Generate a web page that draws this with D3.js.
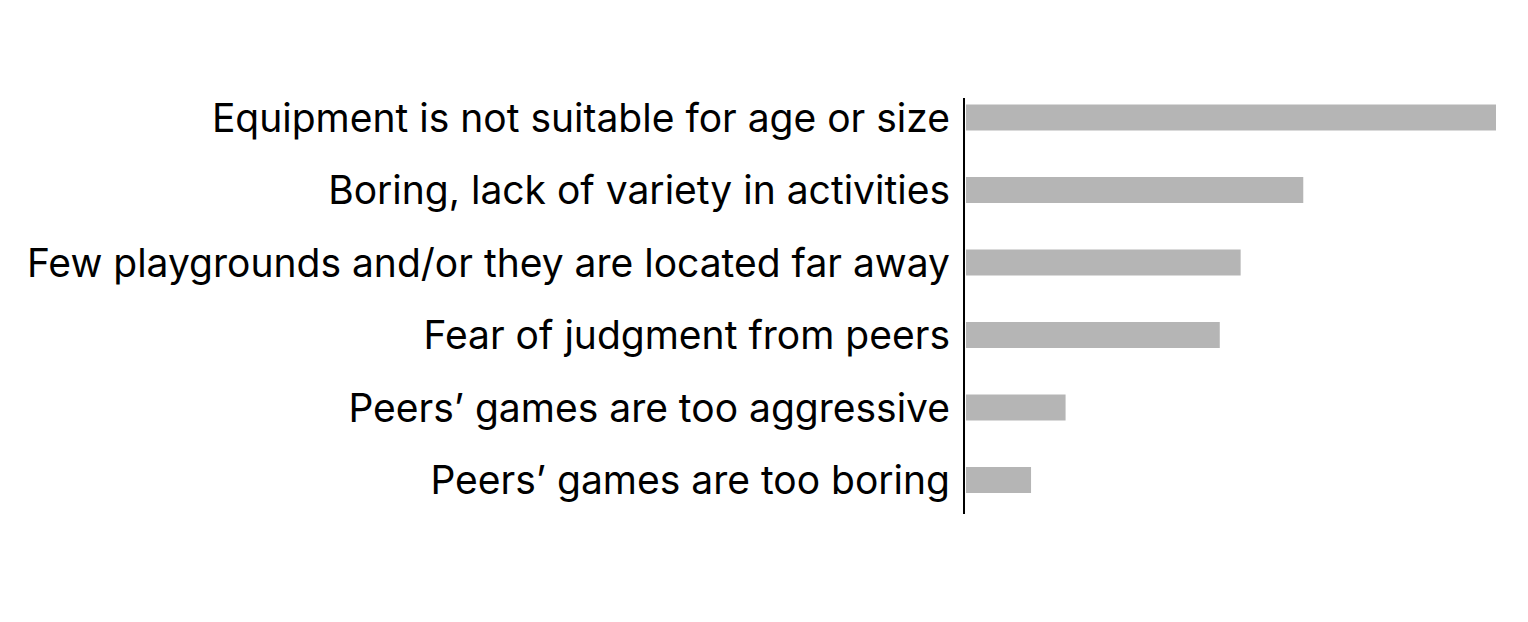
<!DOCTYPE html>
<html>
<head>
<meta charset="utf-8">
<script src="https://cdn.jsdelivr.net/npm/d3@7"></script>
<style>
  html, body { margin: 0; padding: 0; background: #fff; }
  svg { display: block; }
</style>
</head>
<body>
<svg id="chart" width="1528" height="622"></svg>
<script>
const categories = [
  "Equipment is not suitable for age or size",
  "Boring, lack of variety in activities",
  "Few playgrounds and/or they are located far away",
  "Fear of judgment from peers",
  "Peers\u2019 games are too aggressive",
  "Peers\u2019 games are too boring"
];
const values = [33, 21, 17.1, 15.8, 6.2, 4.05];

const svg = d3.select("#chart");
const axisX = 964;
const x = d3.scaleLinear().domain([0, 33]).range([axisX + 2, 1496]);
const pad = 1 - 26 / 72.5;
const y = d3.scaleBand().domain(categories).range([81.25, 516.25])
  .paddingInner(pad).paddingOuter(pad / 2);

svg.selectAll("rect.bar")
  .data(categories)
  .join("rect")
  .attr("class", "bar")
  .attr("x", x(0))
  .attr("y", d => y(d))
  .attr("width", (d, i) => x(values[i]) - x(0))
  .attr("height", y.bandwidth())
  .attr("fill", "#b5b5b5");

const yAxis = d3.axisLeft(y).tickSize(0).tickPadding(14);
const g = svg.append("g").attr("transform", `translate(${axisX},0)`).call(yAxis);
g.select(".domain").remove();
g.selectAll("text")
  .attr("font-family", "Inter, 'Liberation Sans', Arial, sans-serif")
  .attr("font-size", 39)
  .attr("dy", "0.36em")
  .attr("fill", "#000");

svg.append("line")
  .attr("x1", axisX).attr("x2", axisX)
  .attr("y1", 98).attr("y2", 514)
  .attr("stroke", "#000").attr("stroke-width", 2);
</script>
</body>
</html>
